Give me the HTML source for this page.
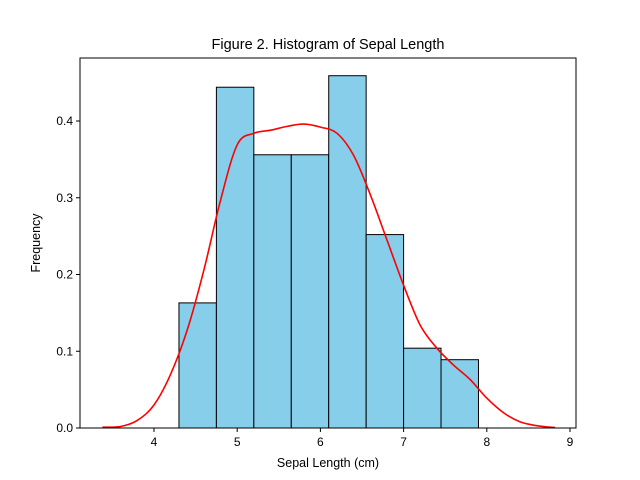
<!DOCTYPE html>
<html><head><meta charset="utf-8"><style>
body{margin:0;background:#fff}
svg{display:block;font-family:"Liberation Sans","DejaVu Sans",sans-serif}
</style></head><body>
<svg id="chart" width="640" height="480">
<rect width="640" height="480" fill="#fff"/>
<text x="328" y="49" font-size="14.5" text-anchor="middle">Figure 2. Histogram of Sepal Length</text>
<text x="328" y="467" font-size="12.5" text-anchor="middle">Sepal Length (cm)</text>
<text x="0" y="0" font-size="12.5" text-anchor="middle" transform="translate(40,243) rotate(-90)">Frequency</text>
<g id="bars"></g><g id="kde"></g><g id="axes"></g>
</svg>
<script>
const binEdges=[4.3,4.75,5.2,5.65,6.1,6.55,7.0,7.45,7.9];
const densities=[0.163,0.444,0.356,0.356,0.459,0.252,0.104,0.089];
const kdeX=[3.38,3.6,3.8,4.0,4.2,4.4,4.6,4.8,5.0,5.2,5.4,5.6,5.8,6.0,6.2,6.4,6.6,6.8,7.0,7.2,7.4,7.6,7.8,8.0,8.2,8.4,8.6,8.82];
const kdeY=[0.001,0.002,0.01,0.03,0.07,0.128,0.206,0.297,0.369,0.384,0.388,0.393,0.396,0.392,0.384,0.355,0.304,0.245,0.186,0.134,0.104,0.082,0.063,0.039,0.02,0.008,0.003,0.0005];
const xTicks=[4,5,6,7,8,9];
const yTicks=[0,0.1,0.2,0.3,0.4];
const L=80,R=576,T=58,B=428;
const X=v=>154+(v-4)*83.2;
const Y=v=>428-v*767.5;
const NS="http://www.w3.org/2000/svg";
function mk(tag,attrs,parent){const e=document.createElementNS(NS,tag);for(const k in attrs)e.setAttribute(k,attrs[k]);parent.appendChild(e);return e;}
const bars=document.getElementById('bars');
densities.forEach((d,i)=>{
 const r=mk('rect',{x:X(binEdges[i]),y:Y(d),width:X(binEdges[i+1])-X(binEdges[i]),height:Y(0)-Y(d),fill:'#87ceeb',stroke:'#000','stroke-width':1},bars);
 
 
});
const kde=document.getElementById('kde');
const pts=kdeX.map((x,i)=>[X(x),Y(kdeY[i])]);
let d='M'+pts[0][0].toFixed(1)+','+pts[0][1].toFixed(1);
for(let i=0;i<pts.length-1;i++){
 const p0=pts[Math.max(0,i-1)],p1=pts[i],p2=pts[i+1],p3=pts[Math.min(pts.length-1,i+2)];
 const c1=[p1[0]+(p2[0]-p0[0])/6,p1[1]+(p2[1]-p0[1])/6];
 const c2=[p2[0]-(p3[0]-p1[0])/6,p2[1]-(p3[1]-p1[1])/6];
 d+='C'+c1.map(v=>v.toFixed(1)).join(',')+' '+c2.map(v=>v.toFixed(1)).join(',')+' '+p2.map(v=>v.toFixed(1)).join(',');
}
const p=mk('path',{d:d,fill:'none',stroke:'red','stroke-width':1.6},kde);


const ax=document.getElementById('axes');
const fr=mk('rect',{x:L,y:T,width:R-L,height:B-T,fill:'none',stroke:'#000','stroke-width':1},ax);


xTicks.forEach(t=>{
 mk('line',{x1:X(t),x2:X(t),y1:B,y2:B+4,stroke:'#000'},ax);
 const tx=mk('text',{x:X(t),y:B+18,'font-size':12,'text-anchor':'middle'},ax);
 tx.textContent=t;
 
 
});
yTicks.forEach(t=>{
 mk('line',{x1:L-4,x2:L,y1:Y(t),y2:Y(t),stroke:'#000'},ax);
 const tx=mk('text',{x:L-7,y:Y(t)+4,'font-size':12,'text-anchor':'end'},ax);
 tx.textContent=t.toFixed(1);
 
 
});
</script>
</body></html>
